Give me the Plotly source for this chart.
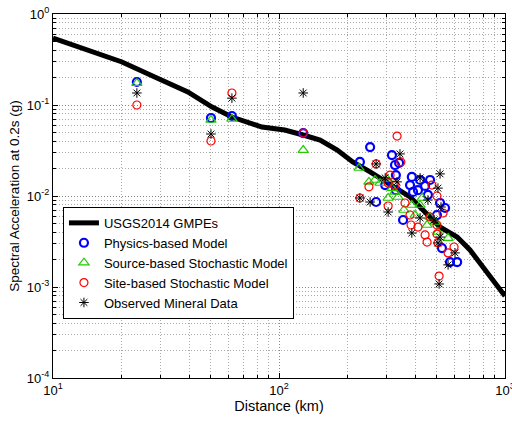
import plotly.graph_objects as go

# GMPE curve (USGS2014)
gmpe_dist = [10, 20.2, 28.2, 39.5, 50.6, 61.9, 84.1, 106, 128, 152, 181, 212, 253, 288, 380, 515, 614, 700, 832, 1000]
gmpe_sa = [0.545, 0.297, 0.203, 0.139, 0.095, 0.0738, 0.0573, 0.0531, 0.0468, 0.0412, 0.0320, 0.0237,
           0.0184, 0.0150, 0.00975, 0.00456, 0.00354, 0.00255, 0.00143, 0.000796]

# Physics-based model
phys_dist = [23.5, 50.0, 61.9, 128, 228, 253, 316, 340, 326, 329, 295, 269, 387, 380, 392, 329, 354,
             421, 466, 456, 516, 543, 500, 526, 571, 614, 412, 443]
phys_sa = [0.179, 0.0720, 0.0757, 0.0492, 0.0237, 0.0345, 0.0282, 0.0231, 0.0219, 0.0170, 0.0132, 0.00859,
           0.0162, 0.0132, 0.0111, 0.0116, 0.00545, 0.0150, 0.0150, 0.0103, 0.00838, 0.00738, 0.00618,
           0.00268, 0.00188, 0.00188, 0.0116, 0.0129]

# Source-based stochastic model
src_dist = [23.5, 50.0, 61.9, 128, 226, 250, 266, 280, 301, 316, 304, 326, 336, 357, 387, 400, 430, 421,
            466, 452, 490, 505, 560]
src_sa = [0.174, 0.0684, 0.0702, 0.0320, 0.0203, 0.0143, 0.0150, 0.0139, 0.0154, 0.0122, 0.00951, 0.0111,
          0.00975, 0.00702, 0.00796, 0.00618, 0.00951, 0.00796, 0.00588, 0.00480, 0.00518, 0.00402, 0.00345]

# Site-based stochastic model
site_dist = [23.5, 50.0, 61.9, 128, 333, 269, 346, 310, 250, 326, 304, 228, 304, 361, 380, 384, 412, 475,
             500, 532, 466, 443, 500, 500, 452, 505, 560, 595, 511]
site_sa = [0.100, 0.0402, 0.1355, 0.0492, 0.0456, 0.0225, 0.0237, 0.0170, 0.0126, 0.0132, 0.0139, 0.00951,
           0.00776, 0.00838, 0.00618, 0.00480, 0.00456, 0.0132, 0.0100, 0.00650, 0.00588, 0.00373, 0.00480,
           0.00382, 0.00312, 0.00305, 0.00237, 0.00275, 0.00132]

# Observed mineral data
obs_dist = [23.5, 50.0, 61.9, 128, 269, 343, 295, 333, 228, 253, 304, 387, 421, 516, 505, 521, 456, 421,
            485, 516, 505, 601, 560, 511]
obs_sa = [0.1355, 0.0480, 0.119, 0.1355, 0.0225, 0.0290, 0.0158, 0.0143, 0.00951, 0.00859, 0.00667, 0.00392,
          0.0158, 0.0175, 0.0122, 0.00757, 0.00904, 0.00573, 0.00545, 0.00354, 0.00305, 0.00237, 0.00175,
          0.00108]

# Tick labels
x_tickvals = [10, 100, 1000]
x_ticktext = ["10<sup>1</sup>", "10<sup>2</sup>", "10<sup>3</sup>"]
y_tickvals = [1e-4, 1e-3, 1e-2, 1e-1, 1]
y_ticktext = ["10<sup>-4</sup>", "10<sup>-3</sup>", "10<sup>-2</sup>", "10<sup>-1</sup>", "10<sup>0</sup>"]
x_minor = [m * d for d in (10, 100) for m in range(2, 10)]
y_minor = [m * d for d in (1e-4, 1e-3, 1e-2, 1e-1) for m in range(2, 10)]

FONT = "Liberation Sans, Arial, sans-serif"

fig = go.Figure()
fig.add_trace(go.Scatter(x=gmpe_dist, y=gmpe_sa, mode="lines", name="USGS2014 GMPEs",
                         line=dict(color="black", width=5)))
fig.add_trace(go.Scatter(x=phys_dist, y=phys_sa, mode="markers", name="Physics-based Model",
                         marker=dict(symbol="circle-open", size=8, color="#0000ff", line=dict(width=2.2, color="#0000ff"))))
fig.add_trace(go.Scatter(x=src_dist, y=src_sa, mode="markers", name="Source-based Stochastic Model",
                         marker=dict(symbol="triangle-up-open", size=9, color="#22cc00", line=dict(width=1.2, color="#22cc00"))))
fig.add_trace(go.Scatter(x=site_dist, y=site_sa, mode="markers", name="Site-based Stochastic Model",
                         marker=dict(symbol="circle-open", size=8, color="#ff0000", line=dict(width=1.2, color="#ff0000"))))
fig.add_trace(go.Scatter(x=obs_dist, y=obs_sa, mode="markers", name="Observed Mineral Data",
                         marker=dict(symbol="asterisk-open", size=8, color="black", line=dict(width=1, color="#222222"))))


def axis_common(minor_vals):
    return dict(
        type="log", showline=True, mirror="ticks", linecolor="black", linewidth=1,
        ticks="inside", ticklen=5, tickcolor="black", zeroline=False, automargin=False,
        showgrid=True, gridcolor="#888888", griddash="1px,2px", gridwidth=1,
        tickfont=dict(family=FONT, size=13, color="black"), ticklabeloverflow="allow",
        minor=dict(tickmode="array", tickvals=minor_vals, ticks="inside", ticklen=3, tickcolor="black",
                   showgrid=True, gridcolor="#aaaaaa", griddash="1px,2px", gridwidth=1),
    )


fig.update_xaxes(range=[1, 3], tickmode="array", tickvals=x_tickvals, ticktext=x_ticktext,
                 title=dict(text="Distance (km)", font=dict(family=FONT, size=14.5, color="black"), standoff=4),
                 **axis_common(x_minor))
fig.update_yaxes(range=[-4, 0], tickmode="array", tickvals=y_tickvals, ticktext=y_ticktext,
                 title=dict(text="Spectral Acceleration at 0.2s (g)",
                            font=dict(family=FONT, size=13.5, color="black"), standoff=4),
                 **axis_common(y_minor))

fig.update_layout(
    width=512, height=422,
    margin=dict(l=53, r=7, t=14, b=44),
    paper_bgcolor="white", plot_bgcolor="white",
    font=dict(family=FONT, size=13, color="black"),
    showlegend=True,
    legend=dict(x=0.022, y=0.47, xanchor="left", yanchor="top", bgcolor="white",
                bordercolor="black", borderwidth=1, font=dict(family=FONT, size=13, color="black"),
                tracegroupgap=0, itemwidth=30),
)

fig.write_html("out.html")
